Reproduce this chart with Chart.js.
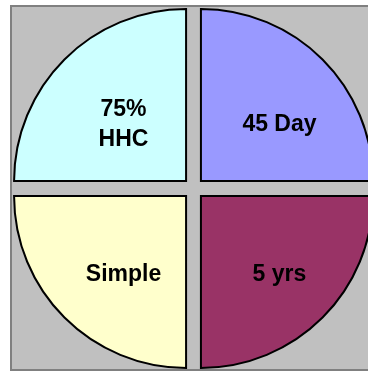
<!DOCTYPE html>
<html>
<head>
<meta charset="utf-8">
<script src="https://cdn.jsdelivr.net/npm/chart.js@4/dist/chart.umd.min.js"></script>
<style>
  html, body { margin: 0; padding: 0; background: #ffffff; overflow: hidden; }
  #wrap { position: relative; width: 368px; height: 372px; overflow: hidden; }
  #panel { position: absolute; left: 10px; top: 5px; width: 400px; height: 362px;
           background: #c0c0c0; border-left: 2px solid #808080; border-top: 2px solid #808080;
           border-bottom: 2px solid #808080; }
  #box { position: absolute; left: 0; top: 0; width: 368px; height: 372px; }
</style>
</head>
<body>
<div id="wrap">
  <div id="panel"></div>
  <div id="box"><canvas id="c"></canvas></div>
</div>
<script>
// Slices in drawing order (clockwise from 12 o'clock)
const categories = [["45 Day"], ["5 yrs"], ["Simple"], ["75%", "HHC"]];
const values = [25, 25, 25, 25];
const sliceColors = ["#9999FF", "#993366", "#FFFFCC", "#CCFFFF"];

const sliceLabels = {
  id: 'sliceLabels',
  afterDatasetsDraw(chart, args, opts) {
    const ctx = chart.ctx;
    const meta = chart.getDatasetMeta(0);
    ctx.save();
    ctx.font = 'bold 23px "Liberation Sans", Arial, sans-serif';
    ctx.fillStyle = '#000000';
    ctx.textAlign = 'center';
    ctx.textBaseline = 'middle';
    meta.data.forEach((arc, i) => {
      const p = arc.getProps(['x', 'y', 'startAngle', 'endAngle', 'outerRadius'], true);
      const mid = (p.startAngle + p.endAngle) / 2;
      const shift = (arc.options.offset || 0) / 4;
      const r = p.outerRadius * opts.fraction + shift;
      const cx = p.x + Math.cos(mid) * r + opts.dx;
      const cy = p.y + Math.sin(mid) * r * opts.squashY + opts.dy;
      const lines = categories[i];
      const lh = 30;
      lines.forEach((t, k) => {
        ctx.fillText(t, cx, cy + (k - (lines.length - 1) / 2) * lh);
      });
    });
    ctx.restore();
  }
};

new Chart(document.getElementById('c'), {
  type: 'pie',
  data: {
    labels: categories.map(l => l.join(' ')),
    datasets: [{
      data: values,
      backgroundColor: sliceColors,
      borderColor: '#000000',
      borderWidth: 2,
      borderJoinStyle: 'miter',
      offset: 42,
      hoverOffset: 0
    }]
  },
  options: {
    responsive: true,
    maintainAspectRatio: false,
    animation: false,
    radius: 172,
    layout: { padding: { left: 19, top: 5, right: 0, bottom: 0 } },
    plugins: {
      legend: { display: false },
      tooltip: { enabled: false },
      sliceLabels: { fraction: 0.58, squashY: 0.96, dx: 8, dy: 11 }
    }
  },
  plugins: [sliceLabels]
});
</script>
</body>
</html>
